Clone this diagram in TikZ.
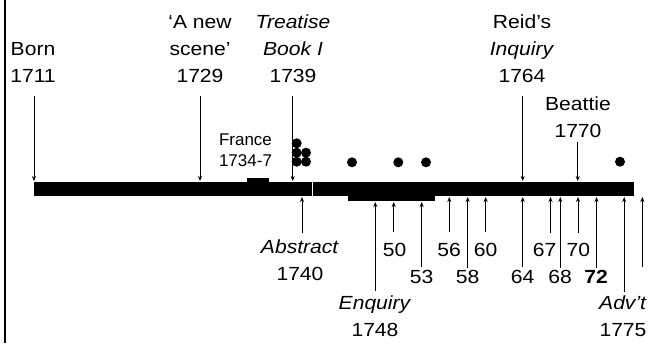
\documentclass[tikz,border=0pt]{standalone}
\usepackage{fontspec}
\setmainfont{Liberation Sans}
\newfontfamily\widefont{Liberation Sans}[FakeStretch=1.11]
\usetikzlibrary{arrows.meta}

\tikzset{
  lbl/.style={anchor=base, inner sep=0pt, align=center,
    font=\widefont\fontsize{19}{27}\selectfont},
  smalllbl/.style={anchor=base, inner sep=0pt, align=center,
    font=\fontsize{17}{21}\selectfont},
  evarrow/.style={line width=0.9pt, -{Stealth[length=5pt,width=4pt]}},
  dot/.style={fill=black}
}

\begin{document}
\begin{tikzpicture}[x=1pt,y=-1pt]
\useasboundingbox (0,0) rectangle (651,343);
% left edge of the slide
\draw [line width=2pt] (4.7,0) -- (4.7,343);
% the life line
\fill [black] (34,182) rectangle (311.5,196);
\fill [black] (312.5,182) rectangle (634,196);
\fill [black] (247,178) rectangle (269,182);
\fill [black] (348,196) rectangle (435,201);
\coordinate (bartop) at (0,181);
\coordinate (barbot) at (0,197);
\coordinate (barlow) at (0,202);
% publications
\foreach \x/\y in {296.7/143.3, 296.7/152.7, 306/152.7, 296.7/161.7, 306/161.7,
                   352/162.3, 398.3/162.3, 426/162.3, 620/161.7}
  \fill [dot] (\x,\y) circle (5);
% events above (base = last line)
\node [lbl] (born) at (33,82) {Born\\1711};
\node [lbl] (scene) at (200,82) {‘A new\\scene’\\1729};
\node [lbl] (treatise) at (293,82) {\textit{Treatise}\\\textit{Book I}\\1739};
\node [lbl] (reid) at (522,82) {Reid’s\\\textit{Inquiry}\\1764};
\node [lbl] (beattie) at (578,137.3) {Beattie\\1770};
\node [smalllbl] (france) at (245.5,166.7) {France\\1734-7};
\coordinate (t1711) at (34,96);
\coordinate (t1729) at (200,96);
\coordinate (t1739) at (292.7,96);
\coordinate (t1764) at (522.7,96);
\coordinate (t1770) at (577.7,141.7);
\foreach \c in {t1711,t1729,t1739,t1764,t1770}
  \draw [evarrow] (\c) -- (\c |- bartop);
% events below
\node [lbl] (abstract) at (300,280.7) {\textit{Abstract}\\1740};
\node [lbl] (enquiry) at (375,336.7) {\textit{Enquiry}\\1748};
\node [lbl] (advt) at (623,336.7) {\textit{Adv’t}\\1775};
\node [lbl] (y50) at (394.7,256) {50};
\node [lbl] (y56) at (449,256) {56};
\node [lbl] (y60) at (485.7,256) {60};
\node [lbl] (y67) at (544.7,256) {67};
\node [lbl] (y70) at (578.3,256) {70};
\node [lbl] (y53) at (421.7,283.3) {53};
\node [lbl] (y58) at (467.7,283.3) {58};
\node [lbl] (y64) at (522.7,283.3) {64};
\node [lbl] (y68) at (560,283.3) {68};
\node [lbl] (y72) at (596.2,283.3) {\bfseries 72};
\coordinate (b1740) at (302,233);
\coordinate (b1748) at (375.3,290.7);
\coordinate (b1750) at (393.7,231.7);
\coordinate (b1753) at (421.7,266.7);
\coordinate (b1756) at (449.3,231.7);
\coordinate (b1758) at (467.7,268);
\coordinate (b1760) at (485.7,231.7);
\coordinate (b1764) at (522.7,266.7);
\coordinate (b1767) at (550.5,232.5);
\coordinate (b1768) at (560.3,268);
\coordinate (b1770) at (578,232.5);
\coordinate (b1772) at (596.5,268);
\coordinate (b1775) at (624.2,291.7);
\coordinate (b1776) at (642.3,266.7);
\foreach \c in {b1748,b1750,b1753}
  \draw [evarrow] (\c) -- (\c |- barlow);
\foreach \c in {b1740,b1756,b1758,b1760,b1764,b1767,b1768,b1770,b1772,b1775,b1776}
  \draw [evarrow] (\c) -- (\c |- barbot);
\end{tikzpicture}
\end{document}
